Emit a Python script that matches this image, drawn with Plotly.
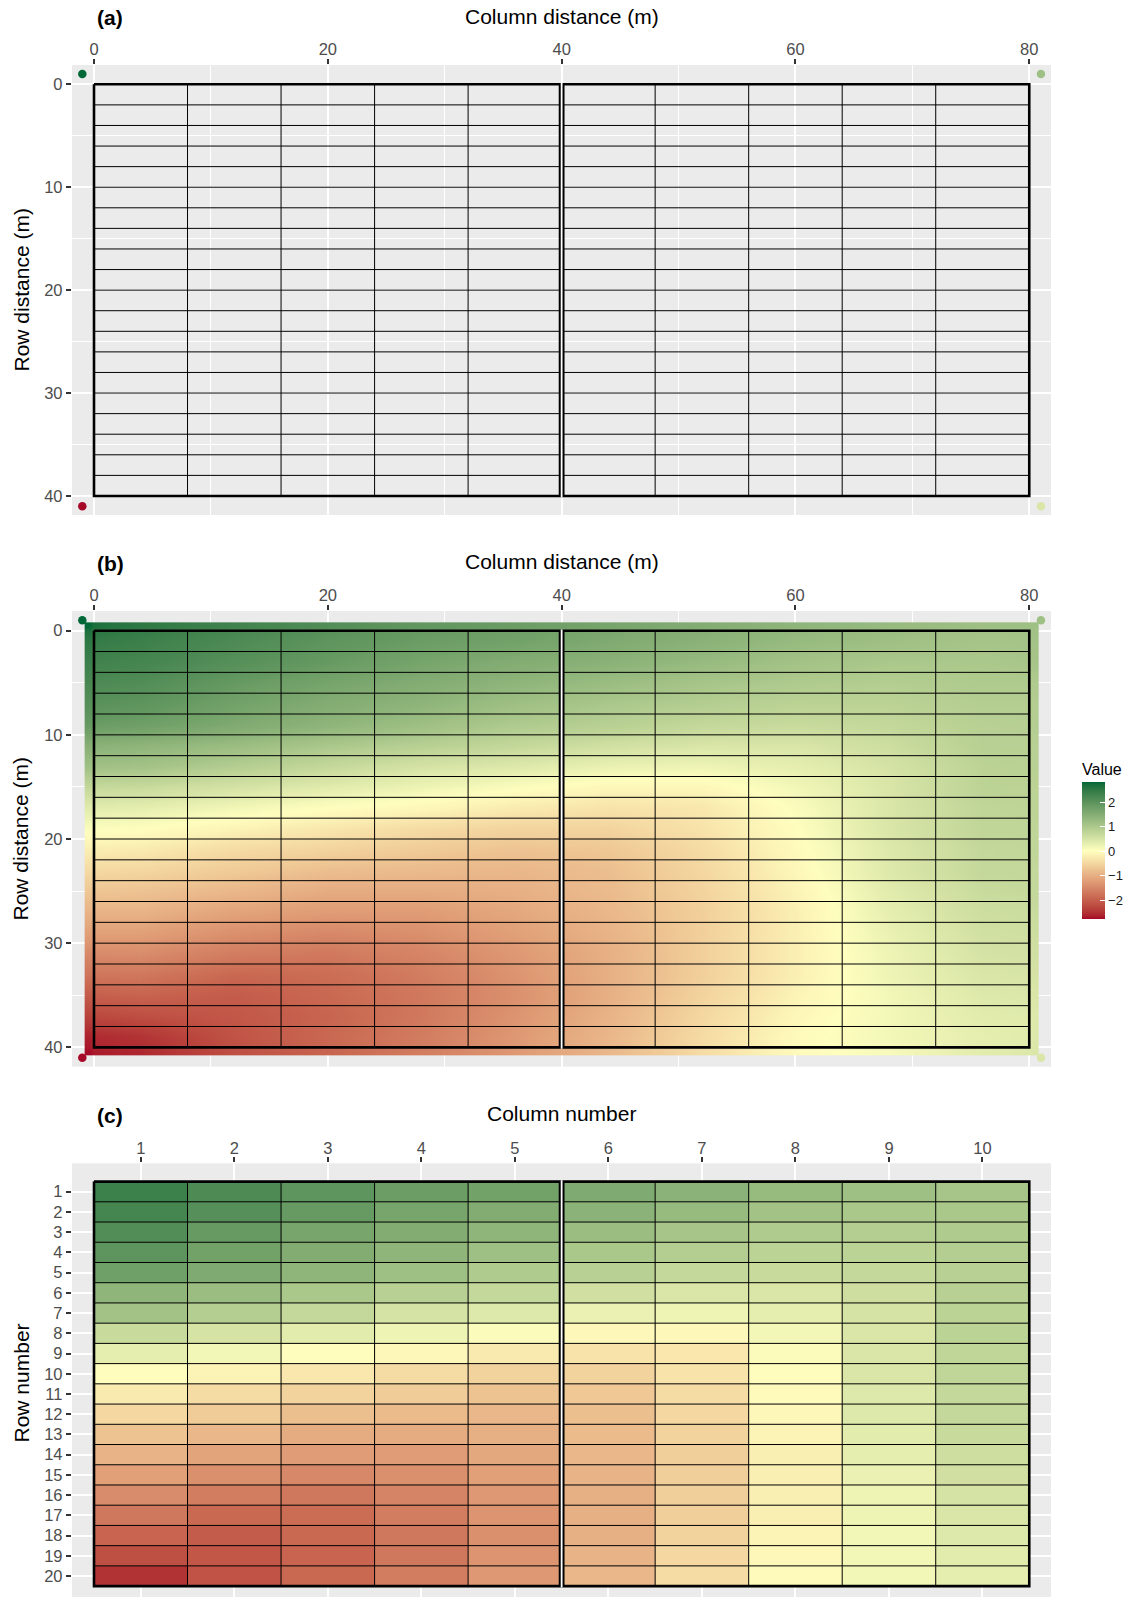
import plotly.graph_objects as go

FONT = "Liberation Sans, Arial, Helvetica, sans-serif"
W, H = 1132, 1597

# ---------------- data ----------------
column_numbers = list(range(1, 11))
row_numbers = list(range(1, 21))
column_width_m = 8
row_height_m = 2
block_split_after_column = 5

# predicted value of every plot cell (rows 1..20, columns 1..10)
cell_values = [
    [2.35, 2.15, 1.95, 1.80, 1.70, 1.55, 1.40, 1.25, 1.15, 1.05],
    [2.25, 2.05, 1.85, 1.65, 1.50, 1.40, 1.25, 1.10, 1.00, 1.00],
    [2.10, 1.85, 1.65, 1.50, 1.35, 1.20, 1.05, 0.95, 0.90, 0.95],
    [1.95, 1.70, 1.50, 1.35, 1.15, 1.00, 0.90, 0.80, 0.80, 0.90],
    [1.75, 1.55, 1.35, 1.15, 0.95, 0.85, 0.70, 0.65, 0.70, 0.85],
    [1.35, 1.20, 1.00, 0.85, 0.70, 0.55, 0.45, 0.45, 0.60, 0.85],
    [1.10, 0.90, 0.70, 0.50, 0.40, 0.25, 0.20, 0.30, 0.50, 0.80],
    [0.65, 0.50, 0.35, 0.20, 0.05, -0.10, -0.10, 0.15, 0.45, 0.80],
    [0.30, 0.15, 0.00, -0.10, -0.25, -0.35, -0.30, 0.05, 0.45, 0.75],
    [0.00, -0.15, -0.30, -0.45, -0.55, -0.55, -0.35, 0.00, 0.45, 0.75],
    [-0.25, -0.45, -0.55, -0.65, -0.75, -0.70, -0.45, -0.05, 0.40, 0.70],
    [-0.50, -0.65, -0.80, -0.85, -0.90, -0.80, -0.50, -0.10, 0.40, 0.70],
    [-0.75, -0.90, -1.05, -1.05, -1.00, -0.85, -0.55, -0.15, 0.35, 0.65],
    [-0.95, -1.15, -1.25, -1.25, -1.10, -0.90, -0.60, -0.20, 0.30, 0.60],
    [-1.20, -1.40, -1.50, -1.40, -1.20, -0.95, -0.60, -0.20, 0.25, 0.55],
    [-1.45, -1.65, -1.70, -1.55, -1.30, -1.00, -0.60, -0.20, 0.20, 0.50],
    [-1.70, -1.90, -1.85, -1.65, -1.35, -1.00, -0.60, -0.20, 0.20, 0.45],
    [-1.95, -2.05, -1.90, -1.70, -1.40, -1.00, -0.55, -0.15, 0.15, 0.40],
    [-2.20, -2.10, -1.95, -1.70, -1.35, -0.95, -0.50, -0.10, 0.15, 0.35],
    [-2.50, -2.15, -1.90, -1.65, -1.30, -0.90, -0.45, -0.05, 0.15, 0.30],
]

# field corner points (m) and their values
corner_x_m = [-1, 81, -1, 81]
corner_y_m = [-1, -1, 41, 41]
corner_values = [2.81, 1.15, -2.78, 0.45]

# interpolated surface: outer ring
surface_margin_m = 0.8
surface_top = [2.81, 2.50, 2.30, 2.10, 1.90, 1.80, 1.65, 1.50, 1.35, 1.25, 1.15, 1.15]
surface_bottom = [-2.78, -2.60, -2.20, -1.95, -1.65, -1.30, -0.90, -0.45, -0.05, 0.10, 0.35, 0.45]
surface_left = [2.50, 2.35, 2.20, 2.05, 1.85, 1.45, 1.15, 0.70, 0.35, 0.05,
                -0.20, -0.45, -0.70, -0.95, -1.20, -1.50, -1.75, -2.05, -2.35, -2.65]
surface_right = [1.10, 1.05, 0.95, 0.90, 0.90, 0.85, 0.85, 0.80, 0.80, 0.75,
                 0.75, 0.70, 0.70, 0.65, 0.60, 0.55, 0.50, 0.45, 0.40, 0.40]

distance_ticks_x = [0, 20, 40, 60, 80]
distance_minor_x = [10, 30, 50, 70]
distance_ticks_y = [0, 10, 20, 30, 40]
distance_minor_y = [5, 15, 25, 35]
legend_ticks = [-2, -1, 0, 1, 2]
legend_ticktext = ["\u22122", "\u22121", "0", "1", "2"]
value_limits = [-2.78, 2.81]
palette_low, palette_mid, palette_high = "#A50026", "#FFFFBF", "#006837"

# ---------------- colour scale (Lab interpolation, like ggplot gradient2) ----------------
def _lin(c):
    return c / 12.92 if c <= 0.04045 else ((c + 0.055) / 1.055) ** 2.4

def _gam(c):
    c = max(0.0, min(1.0, c))
    return 12.92 * c if c <= 0.0031308 else 1.055 * c ** (1 / 2.4) - 0.055

def hex_to_lab(h):
    r, g, b = (_lin(int(h[i:i + 2], 16) / 255) for i in (1, 3, 5))
    X = (0.4124 * r + 0.3576 * g + 0.1805 * b) / 0.95047
    Y = 0.2126 * r + 0.7152 * g + 0.0722 * b
    Z = (0.0193 * r + 0.1192 * g + 0.9505 * b) / 1.08883
    f = lambda t: t ** (1 / 3) if t > 0.008856 else 7.787 * t + 16 / 116
    fx, fy, fz = f(X), f(Y), f(Z)
    return 116 * fy - 16, 500 * (fx - fy), 200 * (fy - fz)

def lab_to_rgb(L, a, bb):
    fy = (L + 16) / 116
    fx = fy + a / 500
    fz = fy - bb / 200
    g = lambda t: t ** 3 if t ** 3 > 0.008856 else (t - 16 / 116) / 7.787
    X, Y, Z = g(fx) * 0.95047, g(fy), g(fz) * 1.08883
    r = 3.2406 * X - 1.5372 * Y - 0.4986 * Z
    gg = -0.9689 * X + 1.8758 * Y + 0.0415 * Z
    b = 0.0557 * X - 0.2040 * Y + 1.0570 * Z
    return "rgb(%d,%d,%d)" % tuple(round(_gam(c) * 255) for c in (r, gg, b))

LAB_LO, LAB_MID, LAB_HI = hex_to_lab(palette_low), hex_to_lab(palette_mid), hex_to_lab(palette_high)
extent = max(abs(value_limits[0]), abs(value_limits[1]))

def value_colour(v):
    t = v / extent
    end = LAB_HI if t >= 0 else LAB_LO
    t = min(1.0, abs(t))
    return lab_to_rgb(*[m + (e - m) * t for m, e in zip(LAB_MID, end)])

n_stops = 48
colorscale = []
for i in range(n_stops + 1):
    p = i / n_stops
    colorscale.append([p, value_colour(value_limits[0] + p * (value_limits[1] - value_limits[0]))])

# ---------------- geometry (page pixels) ----------------
def px_x(px):
    return px / W

def px_y(py):
    return 1 - py / H

X_DOM = [px_x(72), px_x(1051)]
m_range_x = [-1.882, 81.86]
panel_a = dict(top=65, bottom=515, yr=[41.85, -1.875], ppu=10.2925)
panel_b = dict(top=611, bottom=1066.7, yr=[41.86, -1.89], ppu=10.415)
c_top = 1163.3
c_ppu = 20.226
c_yr = [-0.404 + (H - c_top) / c_ppu, -0.404]
c_xr = [m_range_x[0] / column_width_m + 0.5, m_range_x[1] / column_width_m + 0.5]

n_col = len(column_numbers)
n_row = len(row_numbers)
col_edges_m = [i * column_width_m for i in range(n_col + 1)]
row_edges_m = [i * row_height_m for i in range(n_row + 1)]
col_edges_c = [c - 0.5 for c in column_numbers] + [column_numbers[-1] + 0.5]
row_edges_c = [r - 0.5 for r in row_numbers] + [row_numbers[-1] + 0.5]

fig = go.Figure()

def add_grid_lines(xe, ye, xa, ya, ppu_y):
    xs, ys = [], []
    for xv in xe:
        xs += [xv, xv, None]
        ys += [ye[0], ye[-1], None]
    for yv in ye:
        xs += [xe[0], xe[-1], None]
        ys += [yv, yv, None]
    fig.add_trace(go.Scatter(x=xs, y=ys, mode="lines", xaxis=xa, yaxis=ya,
                             line=dict(color="#000000", width=1), hoverinfo="skip", showlegend=False))
    # thick outline of the field
    fig.add_trace(go.Scatter(x=[xe[0], xe[-1], xe[-1], xe[0], xe[0]],
                             y=[ye[0], ye[0], ye[-1], ye[-1], ye[0]], mode="lines",
                             xaxis=xa, yaxis=ya, line=dict(color="#000000", width=2.6),
                             hoverinfo="skip", showlegend=False))
    xs_split = xe[block_split_after_column]
    fig.add_trace(go.Scatter(x=[xs_split, xs_split], y=[ye[0], ye[-1]], mode="lines",
                             xaxis=xa, yaxis=ya, line=dict(color="#000000", width=5.8),
                             hoverinfo="skip", showlegend=False))
    d = 1.3 / ppu_y
    fig.add_trace(go.Scatter(x=[xs_split, xs_split], y=[ye[0] - d, ye[-1] + d], mode="lines",
                             xaxis=xa, yaxis=ya, line=dict(color="#FFFFFF", width=1.8),
                             hoverinfo="skip", showlegend=False))

def add_corners(xa, ya):
    fig.add_trace(go.Scatter(x=corner_x_m, y=corner_y_m, mode="markers", xaxis=xa, yaxis=ya,
                             marker=dict(size=8.5, color=corner_values, coloraxis="coloraxis"),
                             hoverinfo="skip", showlegend=False, cliponaxis=False))

# ---- panel (a)
add_grid_lines(col_edges_m, row_edges_m, "x", "y", panel_a["ppu"])
add_corners("x", "y")

# ---- panel (b)
sx = [col_edges_m[0] - surface_margin_m] + col_edges_m + [col_edges_m[-1] + surface_margin_m]
sy = [row_edges_m[0] - surface_margin_m] + row_edges_m + [row_edges_m[-1] + surface_margin_m]
sz = [surface_top]
for i in range(n_row):
    sz.append([surface_left[i]] + cell_values[i] + [surface_right[i]])
sz.append(surface_bottom)
fig.add_trace(go.Heatmap(x=sx, y=sy, z=sz, zsmooth="best", coloraxis="coloraxis",
                         xaxis="x2", yaxis="y2", hoverinfo="skip"))
add_grid_lines(col_edges_m, row_edges_m, "x2", "y2", panel_b["ppu"])
add_corners("x2", "y2")

# ---- panel (c)
fig.add_trace(go.Heatmap(x=column_numbers, y=row_numbers, z=cell_values, coloraxis="coloraxis",
                         xaxis="x3", yaxis="y3", hoverinfo="skip"))
add_grid_lines(col_edges_c, row_edges_c, "x3", "y3", c_ppu)

# ---------------- axes ----------------
tickfont = dict(family=FONT, size=16.5, color="#4D4D4D")
common = dict(showline=False, zeroline=False, showgrid=True, gridcolor="#FFFFFF", gridwidth=2,
              ticks="outside", ticklen=5.2, tickwidth=1.8, tickcolor="#333333",
              tickfont=tickfont, fixedrange=True)

def xaxis_m(anchor):
    return dict(common, domain=X_DOM, range=m_range_x, side="top", anchor=anchor,
                tickmode="array", tickvals=distance_ticks_x, ticklabelstandoff=-3,
                minor=dict(tickmode="array", tickvals=distance_minor_x, showgrid=True,
                           gridcolor="#FFFFFF", gridwidth=1, ticks=""))

def yaxis_m(anchor, p):
    return dict(common, domain=[px_y(p["bottom"]), px_y(p["top"])], range=p["yr"], anchor=anchor,
                tickmode="array", tickvals=distance_ticks_y,
                minor=dict(tickmode="array", tickvals=distance_minor_y, showgrid=True,
                           gridcolor="#FFFFFF", gridwidth=1, ticks=""))

fig.update_layout(
    xaxis=xaxis_m("y"), yaxis=yaxis_m("x", panel_a),
    xaxis2=xaxis_m("y2"), yaxis2=yaxis_m("x2", panel_b),
    xaxis3=dict(common, domain=X_DOM, range=c_xr, side="top", anchor="y3", ticklabelstandoff=-3,
                tickmode="array", tickvals=column_numbers, ticktext=[str(c) for c in column_numbers]),
    yaxis3=dict(common, domain=[0, px_y(c_top)], range=c_yr, anchor="x3",
                tickmode="array", tickvals=row_numbers, ticktext=[str(r) for r in row_numbers]),
)

fig.update_layout(
    coloraxis=dict(
        colorscale=colorscale, cmin=value_limits[0], cmax=value_limits[1],
        colorbar=dict(
            x=px_x(1082), xanchor="left", xpad=0, y=px_y(919.3), yanchor="bottom", ypad=0,
            len=158.9, lenmode="pixels", thickness=23, thicknessmode="pixels",
            outlinewidth=0, ticks="inside", ticklen=5, tickcolor="#FFFFFF", tickwidth=1,
            tickmode="array", tickvals=legend_ticks, ticktext=legend_ticktext,
            tickfont=dict(family=FONT, size=13, color="#1A1A1A"),
            title=dict(text="Value", side="top", font=dict(family=FONT, size=16, color="#000000")),
        ),
    )
)

# ---------------- titles ----------------
ann = []
def text(s, x, y, size, xanchor="center", angle=0, color="#000000"):
    ann.append(dict(text=s, x=px_x(x), y=px_y(y), xref="paper", yref="paper", showarrow=False,
                    xanchor=xanchor, yanchor="middle", textangle=angle,
                    font=dict(family=FONT, size=size, color=color)))

text("<b>(a)</b>", 95, 18, 21, xanchor="left")
text("Column distance (m)", 561.5, 16, 21)
text("Row distance (m)", 20.5, 290, 21, angle=-90)
text("<b>(b)</b>", 95, 563, 21, xanchor="left")
text("Column distance (m)", 561.5, 561.5, 21)
text("Row distance (m)", 20.5, 839, 21, angle=-90)
text("<b>(c)</b>", 95, 1115, 21, xanchor="left")
text("Column number", 561.5, 1113.5, 21)
text("Row number", 20.5, 1383, 21, angle=-90)

fig.update_layout(
    annotations=ann, width=W, height=H, autosize=False,
    margin=dict(l=0, r=0, t=0, b=0, pad=0),
    plot_bgcolor="#EBEBEB", paper_bgcolor="#FFFFFF",
    font=dict(family=FONT), showlegend=False,
)

fig.write_html("out.html", config={"displayModeBar": False},
               post_script="document.body.style.margin='0';document.body.style.overflow='hidden';")
